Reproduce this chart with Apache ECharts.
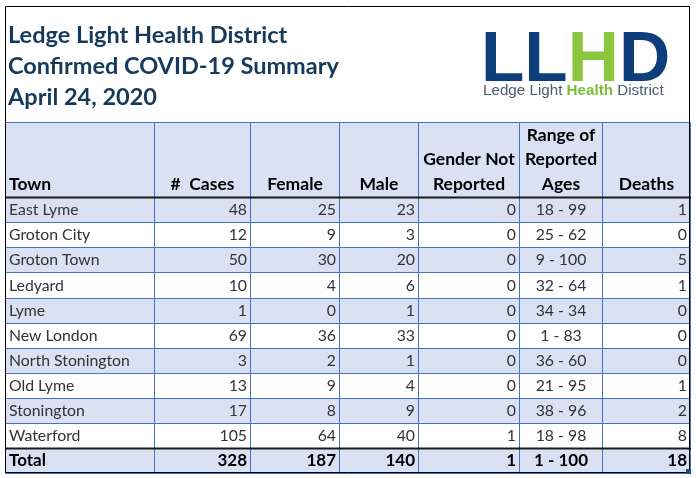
<!DOCTYPE html>
<html>
<head>
<meta charset="utf-8">
<script src="https://cdn.jsdelivr.net/npm/echarts@6/dist/echarts.min.js"></script>
<style>html,body{margin:0;padding:0;background:#fff;}#c{width:696px;height:478px;}</style>
</head>
<body>
<div id="c"></div>
<script>
// ---- data ----
const headers = ['Town', '#  Cases', 'Female', 'Male', 'Gender Not\nReported', 'Range of\nReported\nAges', 'Deaths'];
const towns = ['East Lyme', 'Groton City', 'Groton Town', 'Ledyard', 'Lyme', 'New London', 'North Stonington', 'Old Lyme', 'Stonington', 'Waterford'];
const cases = [48, 12, 50, 10, 1, 69, 3, 13, 17, 105];
const female = [25, 9, 30, 4, 0, 36, 2, 9, 8, 64];
const male = [23, 3, 20, 6, 1, 33, 1, 4, 9, 40];
const notReported = [0, 0, 0, 0, 0, 0, 0, 0, 0, 1];
const ageRanges = ['18 - 99', '25 - 62', '9 - 100', '32 - 64', '34 - 34', '1 - 83', '36 - 60', '21 - 95', '38 - 96', '18 - 98'];
const deaths = [1, 0, 5, 1, 0, 0, 0, 1, 2, 8];
const totalRow = ['Total', 328, 187, 140, 1, '1 - 100', 18];

// ---- layout (not data) ----
const colEdges = [0, 149, 245, 334, 413, 514, 597, 685];
const HEADER_UNITS = 3;
const BLUE_FILL = '#D9E1F2';
const BORDER = '#4472C4';
const FONT = 'Lato, "Open Sans", sans-serif';

const cells = [];
headers.forEach((h, c) => cells.push({c, r: 0, h: HEADER_UNITS, text: h, kind: 'header', band: true}));
towns.forEach((t, i) => {
  const row = [t, cases[i], female[i], male[i], notReported[i], ageRanges[i], deaths[i]];
  row.forEach((v, c) => cells.push({c, r: HEADER_UNITS + i, h: 1, text: String(v), kind: 'body', band: i % 2 === 0}));
});
totalRow.forEach((v, c) => cells.push({c, r: HEADER_UNITS + towns.length, h: 1, text: String(v), kind: 'total', band: true}));
const totalUnits = HEADER_UNITS + towns.length + 1;

function renderItem(params, api) {
  const cell = cells[params.dataIndex];
  const c = api.value(0), r = api.value(1), h = api.value(2);
  const p0 = api.coord([colEdges[c], r]);
  const p1 = api.coord([colEdges[c + 1], r + h]);
  const x0 = Math.round(p0[0]), x1 = Math.round(p1[0]);
  const y0 = Math.round(p0[1]), y1 = Math.round(p1[1]);
  const children = [{
    type: 'rect',
    shape: {x: x0 + 0.5, y: y0 + 0.5, width: x1 - x0, height: y1 - y0},
    style: {fill: cell.band ? BLUE_FILL : '#ffffff', stroke: BORDER, lineWidth: 1},
    z2: 1
  }];
  let align, tx;
  if (c === 0) { align = 'left'; tx = x0 + 4; }
  else if (cell.kind === 'header' || c === 5) { align = 'center'; tx = (x0 + x1) / 2 + 0.5; }
  else { align = 'right'; tx = x1 - 3; }
  if (cell.kind === 'header') {
    children.push({
      type: 'text', z2: 5,
      style: {text: cell.text, x: tx, y: y1 - 0.5, align: align, verticalAlign: 'bottom',
        lineHeight: 24.5, font: 'bold 17.5px ' + FONT, fill: '#000000'}
    });
    children.push({type: 'line', z2: 10, shape: {x1: x0, y1: y1 + 0.5, x2: x1 + 1, y2: y1 + 0.5},
      style: {stroke: '#1a1a1a', lineWidth: 2}});
  } else {
    children.push({
      type: 'text', z2: 5,
      style: {text: cell.text, x: tx, y: (y0 + y1) / 2 + 0.5, align: align, verticalAlign: 'middle',
        font: (cell.kind === 'total' ? 'bold 17px ' : '15.8px ') + FONT,
        fill: cell.kind === 'total' ? '#000000' : '#333333'}
    });
    if (cell.kind === 'total') {
      children.push({type: 'line', z2: 10, shape: {x1: x0, y1: y0 + 0.5, x2: x1 + 1, y2: y0 + 0.5},
        style: {stroke: '#1a1a1a', lineWidth: 2}});
    }
  }
  return {type: 'group', children};
}

const chart = echarts.init(document.getElementById('c'));
chart.setOption({
  animation: false,
  backgroundColor: '#ffffff',
  title: [{
    text: 'Ledge Light Health District\nConfirmed COVID-19 Summary\nApril 24, 2020',
    left: 8, top: 20, padding: 0,
    textStyle: {fontFamily: FONT, fontWeight: 'bold', fontSize: 23.5, lineHeight: 31, color: '#163A5C'}
  }, {
    text: '{b|LL}{g|H}{b|D}',
    left: 476, top: 16,
    textStyle: {rich: {
      b: {fontFamily: '"Liberation Sans", Arial, sans-serif', fontWeight: 'bold', fontSize: 71, color: '#0D3D7A', lineHeight: 80},
      g: {fontFamily: '"Liberation Sans", Arial, sans-serif', fontWeight: 'bold', fontSize: 71, color: '#8CC63F', lineHeight: 80}
    }}
  }, {
    text: '{t|Ledge Light }{h|Health}{t| District}',
    left: 483, top: 83, padding: 0,
    textStyle: {rich: {
      t: {fontFamily: '"Liberation Sans", Arial, sans-serif', fontWeight: 'normal', fontSize: 15.2, color: '#4D5A6A', lineHeight: 16},
      h: {fontFamily: '"Liberation Sans", Arial, sans-serif', fontWeight: 'bold', fontSize: 15.2, color: '#7DBE3A', lineHeight: 16}
    }}
  }],
  grid: {left: 5, right: 6, top: 122, bottom: 5},
  xAxis: {type: 'value', min: 0, max: colEdges[colEdges.length - 1], show: false},
  yAxis: {type: 'value', min: 0, max: totalUnits, inverse: true, show: false},
  series: [{
    type: 'custom',
    renderItem: renderItem,
    data: cells.map(cl => [cl.c, cl.r, cl.h]),
    clip: false
  }],
  graphic: [{
    type: 'rect', z: 100,
    shape: {x: 5.5, y: 6.5, width: 684, height: 466},
    style: {fill: null, stroke: '#000000', lineWidth: 1}
  }, {
    type: 'rect', z: 101,
    shape: {x: 686, y: 469, width: 5, height: 5},
    style: {fill: '#1F4E79'}
  }]
});
</script>
</body>
</html>
